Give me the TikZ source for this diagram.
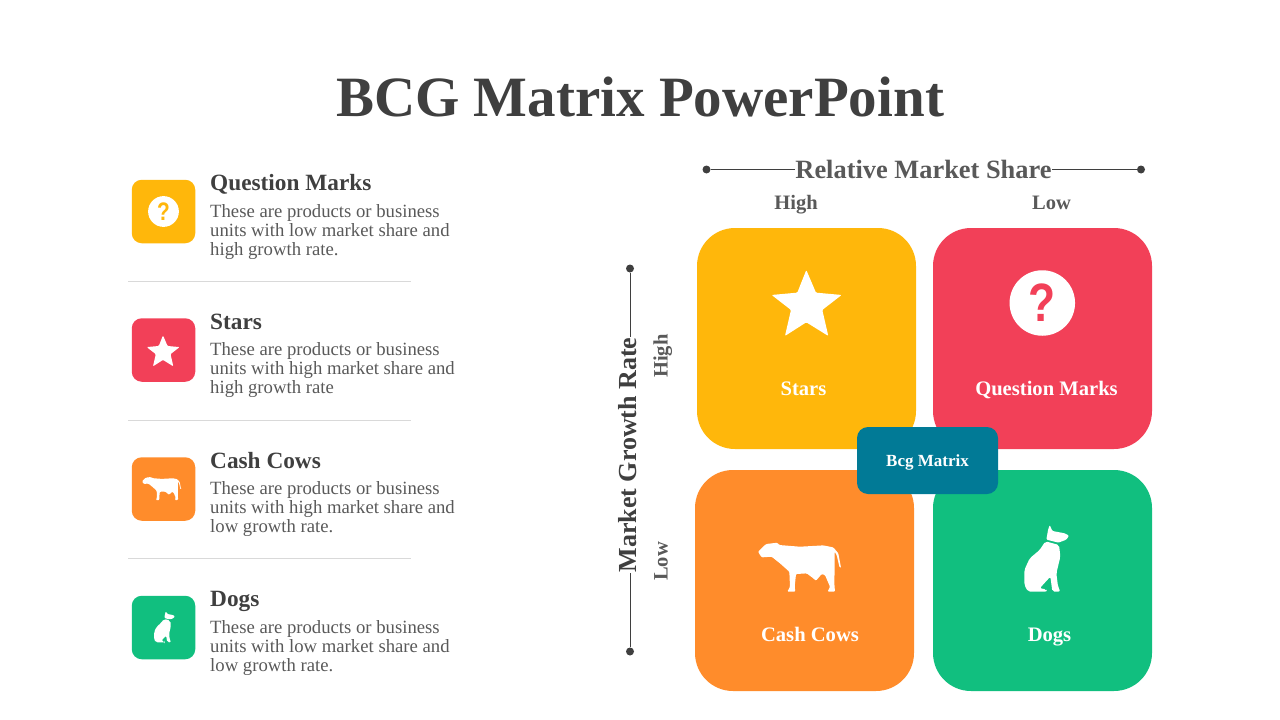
\documentclass[tikz,border=0pt]{standalone}
\usepackage{fontspec}
\setmainfont{Liberation Serif}
\newfontfamily\marksans{Liberation Sans}
\definecolor{amber}{HTML}{FFB70B}
\definecolor{rosered}{HTML}{F24058}
\definecolor{cowor}{HTML}{FF8C2B}
\definecolor{dogreen}{HTML}{11BF7F}
\definecolor{tealbox}{HTML}{017A96}
\definecolor{inkdark}{HTML}{3F3F3F}
\definecolor{inkmid}{HTML}{595959}
\tikzset{
  bigcard/.style={minimum width=219pt,minimum height=221pt,rounded corners=38pt,inner sep=0pt},
  minicard/.style={minimum width=63.5pt,minimum height=63.5pt,rounded corners=10pt,inner sep=0pt},
  cardtext/.style={anchor=base,text=white,font=\bfseries\fontsize{20.6}{24}\selectfont,inner sep=0pt},
  headtext/.style={anchor=base west,text=inkdark,font=\bfseries\fontsize{23.3}{26}\selectfont,inner sep=0pt},
  bodytext/.style={anchor=north west,align=left,text=inkmid,font=\fontsize{18.7}{19}\selectfont,inner sep=0pt},
  axistext/.style={anchor=base,text=inkmid,font=\bfseries\fontsize{26.4}{30}\selectfont,inner sep=0pt},
  ticktext/.style={anchor=base,text=inkmid,font=\bfseries\fontsize{20.5}{24}\selectfont,inner sep=0pt},
  enddot/.style={circle,fill=inkdark,minimum size=8pt,inner sep=0pt},
  axisline/.style={draw=inkdark,line width=1pt},
  divider/.style={draw=black!15,line width=1pt},
  pics/staricon/.style={code={
    \fill[white,rounded corners=1pt,scale=.3333,shift={(-349,-250)}]
      (349,150) -- (378,218) -- (455,225) -- (397,270) -- (415,348) -- (349,307)
      -- (285,348) -- (303,270) -- (245,225) -- (322,218) -- cycle;
  }},
  pics/askicon/.style={code={
    \node[circle,fill=white,minimum size=65.5pt,inner sep=0pt,transform shape] (-disc) at (0,0) {};
    \node[text=#1,font=\marksans\bfseries\fontsize{54}{54}\selectfont,inner sep=0pt,xscale=.82,transform shape] (-mark) at (0,0) {?};
  }},
  pics/cowicon/.style={code={
    \fill[white,rounded corners=1pt,scale=.3333,shift={(-330,-290)}]
      (204,245) -- (228,222) -- (262,218) -- (268,225) -- (330,230) -- (400,226) -- (430,232)
      -- (445,250) -- (453,293) -- (449,293) -- (440,255) -- (434,245) -- (434,290)
      -- (433,340) -- (435,365) -- (413,365) -- (420,350) -- (405,315) -- (395,312)
      -- (378,332) -- (370,325) -- (350,310) -- (318,312) -- (314,350) -- (316,365)
      -- (292,365) -- (300,350) -- (298,305) -- (270,280) -- (245,260) -- (215,262) -- cycle;
  }},
  pics/dogicon/.style={code={
    \begin{scope}[scale=.3333,shift={(-1071,-265)}]
    \fill[white,rounded corners=1pt]
      (1080,165) -- (1088,183) -- (1125,190) -- (1138,197) -- (1130,209) -- (1106,218)
      -- (1070,209) -- (1075,180) -- cycle;
    \fill[white,rounded corners=2pt]
      (1067,214) -- (1108,225) -- (1112,260) -- (1100,310) -- (1105,350) -- (1112,365)
      -- (1088,365) -- (1082,320) -- (1050,355) -- (1070,358) -- (1072,365) -- (1015,365)
      -- (1004,345) -- (1004,300) -- (1020,265) -- (1050,240) -- cycle;
    \end{scope}
  }},
}
\begin{document}
\begin{tikzpicture}[x=1pt,y=-1pt]
\useasboundingbox (0,0) rectangle (1280,720);
\node[anchor=base,text=inkdark,font=\bfseries\fontsize{57}{60}\selectfont,inner sep=0pt] (title) at (640,116) {BCG Matrix PowerPoint};
% left list
\foreach \i/\y/\col/\head/\body in {
  1/211.5/amber/{Question Marks}/{These are products or business\\units with low market share and\\high growth rate.},
  2/350/rosered/{Stars}/{These are products or business\\units with high market share and\\high growth rate},
  3/489/cowor/{Cash Cows}/{These are products or business\\units with high market share and\\low growth rate.},
  4/627.5/dogreen/{Dogs}/{These are products or business\\units with low market share and\\low growth rate.}}
{
  \node[minicard,fill=\col] (mini\i) at (163.5,\y) {};
  \node[headtext] (head\i) at (210,\y-20.9) {\head};
  \node[bodytext] (body\i) at (210,\y-7.5) {\body};
}
\foreach \y in {281.5,420.5,558.5}
  \draw[divider] (128,\y) -- (411,\y);
\pic[scale=.47] (miniask) at (163.5,211.5) {askicon=amber};
\pic[scale=.47] at (163,351) {staricon};
\pic[scale=.47] at (161.7,488.3) {cowicon};
\pic[scale=.47] at (164.5,626.8) {dogicon};
% axes
\node[axistext] (share) at (923.5,178) {Relative Market Share};
\node[enddot] (shareL) at (706.5,169.5) {};
\node[enddot] (shareR) at (1141,169.5) {};
\draw[axisline] (shareL) -- (shareL -| share.west);
\draw[axisline] (shareR) -- (shareR -| share.east);
\node[axistext,rotate=90,text=inkdark,font=\bfseries\fontsize{26}{30}\selectfont] (growth) at (636.5,455) {Market Growth Rate};
\node[enddot] (growthT) at (630,268.5) {};
\node[enddot] (growthB) at (630,651.5) {};
\draw[axisline] (growthT) -- (growthT |- growth.east);
\draw[axisline] (growthB) -- (growthB |- growth.west);
\node[ticktext] (shareHigh) at (796,209) {High};
\node[ticktext] (shareLow) at (1051.5,209) {Low};
\node[ticktext,rotate=90] (growthHigh) at (667.5,356) {High};
\node[ticktext,rotate=90] (growthLow) at (667.5,561.5) {Low};
% matrix
\node[bigcard,fill=amber] (stars) at (806.5,338.5) {};
\node[bigcard,fill=rosered] (marks) at (1042.5,338.5) {};
\node[bigcard,fill=cowor] (cows) at (804.5,580.5) {};
\node[bigcard,fill=dogreen] (dogs) at (1042.5,580.5) {};
\pic at (806.3,303.3) {staricon};
\pic (bigask) at (1042.3,303) {askicon=rosered};
\pic at (800,566.7) {cowicon};
\pic at (1046.7,558.3) {dogicon};
\node[cardtext] (starsText) at (803.5,395) {Stars};
\node[cardtext] (marksText) at (1046.5,395) {Question Marks};
\node[cardtext] (cowsText) at (810,641.7) {Cash Cows};
\node[cardtext] (dogsText) at (1049.5,641.7) {Dogs};
\node[minimum width=141pt,minimum height=67pt,rounded corners=11pt,fill=tealbox,inner sep=0pt] (bcg) at (927.5,460.5) {};
\node[anchor=base,text=white,font=\bfseries\fontsize{17}{20}\selectfont,inner sep=0pt] (bcgText) at (927.5,466) {Bcg Matrix};
\end{tikzpicture}
\end{document}
